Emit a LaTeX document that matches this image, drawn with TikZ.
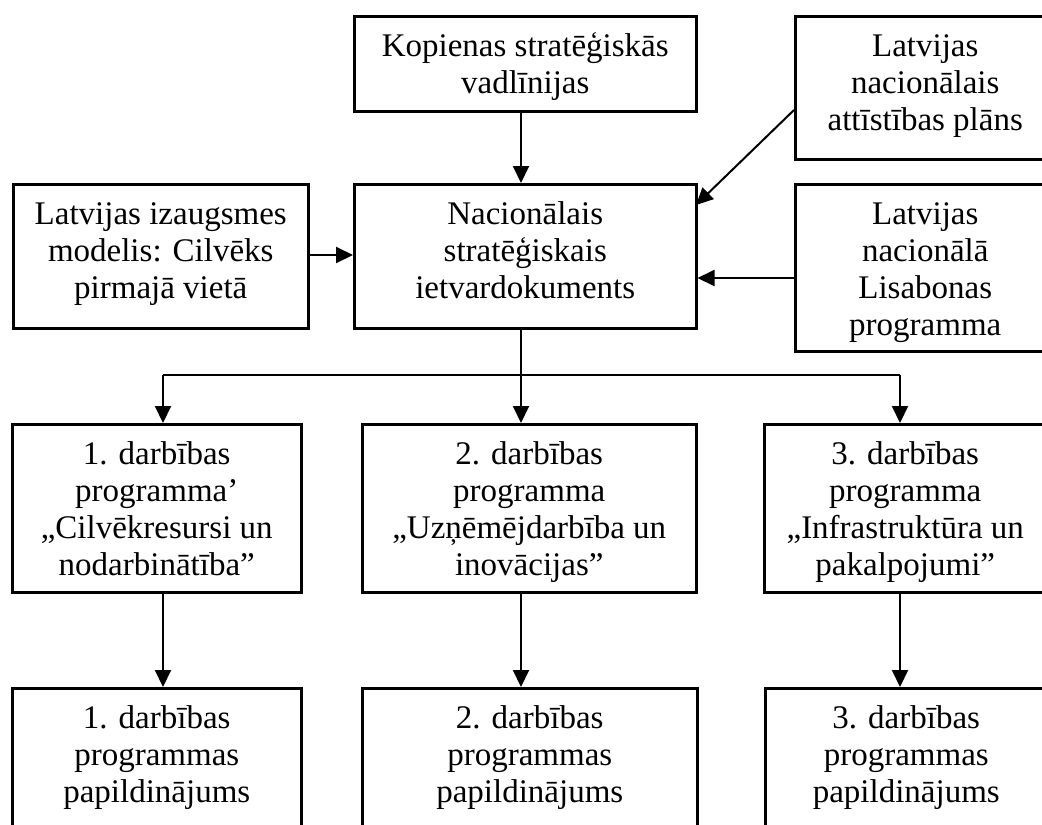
\documentclass[tikz,border=0pt]{standalone}
\usepackage{fontspec}
\setmainfont{Liberation Serif}
\usetikzlibrary{arrows.meta}
% text block of a box: width, height, lines (first baseline 40pt below the top)
\newcommand{\boxtext}[3]{\parbox[t][#2pt][t]{#1pt}{\centering\rule{0pt}{40pt}#3}}
\begin{document}
\begin{tikzpicture}[x=1pt,y=-1pt,
  box/.style={draw, line width=2.5pt, inner sep=0pt, anchor=north west,
              font=\fontsize{33}{37}\selectfont},
  conn/.style={line width=2pt},
  arr/.style={conn, -{Triangle[length=17pt,width=16pt]}}]
\useasboundingbox (0,0) rectangle (1042,825);
\clip (0,0) rectangle (1042,825);

% column positions of the vertical connectors
\coordinate (c1) at (163,0);
\coordinate (c2) at (521,0);
\coordinate (c3) at (900,0);
% rows of the side connectors
\coordinate (rdiag) at (0,110);
\coordinate (rleft) at (0,255);
\coordinate (rright) at (0,278);
\coordinate (rbus) at (0,375);
\coordinate (dend) at (696,205);

% top level
\node[box] (kop) at (353,15) {\boxtext{342}{95}{Kopienas stratēģiskās\\vadlīnijas}};
\node[box] (lnap) at (794,15) {\boxtext{260}{143}{Latvijas\\nacionālais\\attīstības plāns}};

% second level
\node[box] (lim) at (12,183) {\boxtext{295}{144}{Latvijas izaugsmes\\modelis: Cilvēks\\pirmajā vietā}};
\node[box] (nsi) at (353,183) {\boxtext{342}{144}{Nacionālais\\stratēģiskais\\ietvardokuments}};
\node[box] (llp) at (794,183) {\boxtext{260}{167}{Latvijas\\nacionālā\\Lisabonas\\programma}};

% operational programmes
\node[box] (dp1) at (11,423) {\boxtext{289}{168}{1. darbības\\programma’\\„Cilvēkresursi un\\nodarbinātība”}};
\node[box] (dp2) at (361,423) {\boxtext{334}{168}{2. darbības\\programma\\„Uzņēmējdarbība un\\inovācijas”}};
\node[box] (dp3) at (763,423) {\boxtext{282}{168}{3. darbības\\programma\\„Infrastruktūra un\\pakalpojumi”}};

% programme complements
\node[box] (pp1) at (11,687) {\boxtext{289}{170}{1. darbības\\programmas\\papildinājums}};
\node[box] (pp2) at (361,687) {\boxtext{335}{170}{2. darbības\\programmas\\papildinājums}};
\node[box] (pp3) at (764,687) {\boxtext{282}{170}{3. darbības\\programmas\\papildinājums}};

% inputs to the framework document
\draw[arr] (kop.south -| c2) -- (nsi.north -| c2);
\draw[arr] (lim.east |- rleft) -- (nsi.west |- rleft);
\draw[arr] (llp.west |- rright) -- (nsi.east |- rright);
\draw[arr] (lnap.west |- rdiag) -- (dend);

% distribution to the operational programmes
\draw[conn] (nsi.south -| c2) -- (c2 |- rbus);
\draw[conn] (c1 |- rbus) -- (c3 |- rbus);
\draw[arr] (c1 |- rbus) -- (dp1.north -| c1);
\draw[arr] (c2 |- rbus) -- (dp2.north -| c2);
\draw[arr] (c3 |- rbus) -- (dp3.north -| c3);

% programmes to their complements
\draw[arr] (dp1.south -| c1) -- (pp1.north -| c1);
\draw[arr] (dp2.south -| c2) -- (pp2.north -| c2);
\draw[arr] (dp3.south -| c3) -- (pp3.north -| c3);
\end{tikzpicture}
\end{document}
